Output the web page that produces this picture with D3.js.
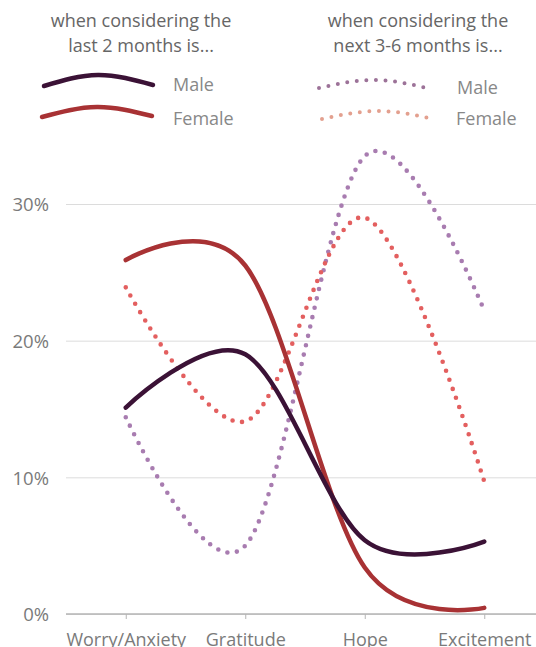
<!DOCTYPE html>
<html>
<head>
<meta charset="utf-8">
<script src="https://cdn.jsdelivr.net/npm/d3@7"></script>
<style>
  body { margin: 0; background: #fff; }
  svg { display: block; font-family: "Open Sans", sans-serif; }
</style>
</head>
<body>
<figure id="chart" style="margin:0"></figure>
<script>
// values (percent)
const categories = ["Worry/Anxiety", "Gratitude", "Hope", "Excitement"];
const maleLast = [15.1, 19.0, 5.4, 5.3];
const femaleLast = [25.9, 25.5, 3.4, 0.45];
const maleNext = [14.4, 5.0, 33.5, 22.2];
const femaleNext = [23.9, 14.1, 29.0, 9.7];
const yTicks = [0, 10, 20, 30];

const width = 536, height = 647;

const svg = d3.select("figure#chart")
  .append("svg")
  .attr("width", width)
  .attr("height", height);

const x = d3.scalePoint()
  .domain(categories)
  .range([66, 544])
  .padding(0.5);

const y = d3.scaleLinear()
  .domain([0, 30])
  .range([614, 204]);

// gridlines + y labels
const yAxis = svg.append("g")
  .attr("transform", "translate(66,0)")
  .call(d3.axisLeft(y).tickValues(yTicks).tickSize(-470).tickFormat(d => d + "%"));
yAxis.select(".domain").remove();
yAxis.selectAll(".tick line").attr("stroke", "#dcdcdc");
yAxis.selectAll(".tick text")
  .attr("x", -17)
  .attr("dy", "0.36em")
  .attr("fill", "#7a7a7a")
  .style("font-size", "18.5px")
  .style("font-family", "Open Sans, sans-serif");

// x axis
const xAxis = svg.append("g")
  .attr("transform", "translate(0,614)")
  .call(d3.axisBottom(x).tickSize(5).tickSizeOuter(0));
xAxis.select(".domain").attr("d", "M66,0H536").attr("stroke", "#b5b5b5").attr("stroke-width", 1.5);
xAxis.selectAll(".tick line").attr("stroke", "#b5b5b5");
xAxis.selectAll(".tick text")
  .attr("y", 19)
  .attr("fill", "#7a7a7a")
  .style("font-size", "18px")
  .style("font-family", "Open Sans, sans-serif");

const line = d3.line()
  .x((d, i) => x(categories[i]))
  .y(d => y(d))
  .curve(d3.curveCardinal);

const series = [
  { values: maleNext, color: "#a87cb0", dotted: true },
  { values: femaleNext, color: "#e35f5f", dotted: true },
  { values: femaleLast, color: "#a83234", dotted: false },
  { values: maleLast, color: "#3b1236", dotted: false }
];

series.forEach(s => {
  svg.append("path")
    .datum(s.values)
    .attr("d", line)
    .attr("fill", "none")
    .attr("stroke", s.color)
    .attr("stroke-width", s.dotted ? 4.6 : 4.5)
    .attr("stroke-linecap", "round")
    .attr("stroke-dasharray", s.dotted ? "0 9.6" : null);
});

// legend
const legendArc = d3.line().curve(d3.curveNatural);
const titleStyle = t => t.attr("fill", "#666").style("font-size", "18px").attr("text-anchor", "middle");

svg.append("text").attr("x", 141).attr("y", 27).text("when considering the").call(titleStyle);
svg.append("text").attr("x", 141).attr("y", 52).text("last 2 months is...").call(titleStyle);
svg.append("text").attr("x", 418).attr("y", 27).text("when considering the").call(titleStyle);
svg.append("text").attr("x", 418).attr("y", 52).text("next 3-6 months is...").call(titleStyle);

const legendItems = [
  { pts: [[44, 86], [98, 75], [153, 85]], color: "#3b1236", dotted: false, label: "Male", lx: 173, ly: 91 },
  { pts: [[42, 117], [97, 107], [152, 116]], color: "#a83234", dotted: false, label: "Female", lx: 173, ly: 125 },
  { pts: [[319, 88], [375, 80], [431, 89]], color: "#9c7298", dotted: true, label: "Male", lx: 457, ly: 94 },
  { pts: [[322, 119], [378, 111], [434, 119]], color: "#e3a08f", dotted: true, label: "Female", lx: 456, ly: 125 }
];

legendItems.forEach(l => {
  svg.append("path")
    .attr("d", legendArc(l.pts))
    .attr("fill", "none")
    .attr("stroke", l.color)
    .attr("stroke-width", l.dotted ? 4 : 4.5)
    .attr("stroke-linecap", "round")
    .attr("stroke-dasharray", l.dotted ? "0 9.6" : null);
  svg.append("text")
    .attr("x", l.lx).attr("y", l.ly)
    .attr("fill", "#888")
    .style("font-size", "18px")
    .text(l.label);
});
</script>
</body>
</html>
